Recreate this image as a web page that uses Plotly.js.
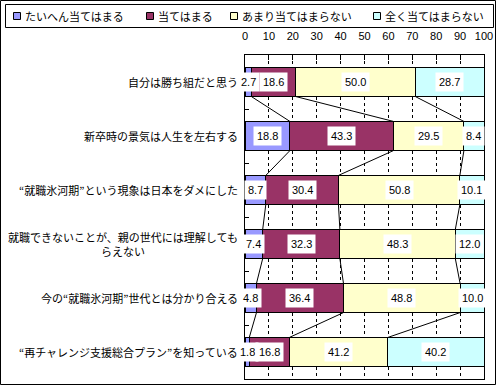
<!DOCTYPE html>
<html><head><meta charset="utf-8">
<script src="https://cdn.plot.ly/plotly-3.0.1.min.js"></script>
<style>html,body{margin:0;padding:0;background:#fff}#chart{width:500px;height:385px}</style>
</head><body><div id="chart"></div>
<script>
const categories = [
  '自分は勝ち組だと思う',
  '新卒時の景気は人生を左右する',
  '“就職氷河期”という現象は日本をダメにした',
  '就職できないことが、親の世代には理解しても<br>らえない',
  '今の“就職氷河期”世代とは分かり合える',
  '“再チャレンジ支援総合プラン”を知っている'
];
const seriesNames = ['たいへん当てはまる', '当てはまる', 'あまり当てはまらない', '全く当てはまらない'];
const veryTrue   = [2.7, 18.8, 8.7, 7.4, 4.8, 1.8];
const somewhat   = [18.6, 43.3, 30.4, 32.3, 36.4, 16.8];
const notMuch    = [50.0, 29.5, 50.8, 48.3, 48.8, 41.2];
const notAtAll   = [28.7, 8.4, 10.1, 12.0, 10.0, 40.2];
const xTickVals  = [0, 10, 20, 30, 40, 50, 60, 70, 80, 90, 100];
const colors = ['#9999FF', '#993366', '#FFFFCC', '#CCFFFF'];

const series = [veryTrue, somewhat, notMuch, notAtAll];
const idx = categories.map((c, i) => i);
const BAR_W = 0.54;
const JP = '"Noto Sans CJK JP", sans-serif';
const NUM = '"Liberation Sans", Arial, sans-serif';

// layout geometry (pixels)
const M = {l: 245, r: 16, t: 55, b: 6};
const W = 500, H = 385;
const PW = W - M.l - M.r, PH = H - M.t - M.b;
const px2x = p => (p - M.l) / PW;
const py2y = p => (H - M.b - p) / PH;

const traces = series.map((vals, k) => ({
  type: 'bar', orientation: 'h', name: seriesNames[k],
  x: vals, y: idx, width: BAR_W,
  marker: {color: colors[k], line: {color: '#000', width: 1}},
  hoverinfo: 'x', showlegend: false
}));

// cumulative sums
const cum = [];
let run = idx.map(() => 0);
series.forEach(vals => { run = run.map((r, i) => r + vals[i]); cum.push(run.slice()); });

const shapes = [];
// series lines between bars
for (let k = 0; k < 3; k++) {
  for (let i = 0; i < idx.length - 1; i++) {
    shapes.push({type: 'line', xref: 'x', yref: 'y', layer: 'above',
      x0: cum[k][i], y0: i + BAR_W / 2, x1: cum[k][i + 1], y1: i + 1 - BAR_W / 2,
      line: {color: '#000', width: 1}});
  }
}
// outer frame
shapes.push({type: 'rect', xref: 'paper', yref: 'paper',
  x0: px2x(0.5), x1: px2x(495.5), y0: py2y(0.5), y1: py2y(384.5),
  line: {color: '#000', width: 1}, fillcolor: 'rgba(0,0,0,0)'});
// legend box
shapes.push({type: 'rect', xref: 'paper', yref: 'paper',
  x0: px2x(5.5), x1: px2x(493.5), y0: py2y(4.5), y1: py2y(27.5),
  line: {color: '#000', width: 1}, fillcolor: '#fff'});
const legendX = [13, 146, 230, 373];
const annotations = [];
seriesNames.forEach((name, k) => {
  shapes.push({type: 'rect', xref: 'paper', yref: 'paper',
    x0: px2x(legendX[k] + 0.5), x1: px2x(legendX[k] + 7.5), y0: py2y(12.5), y1: py2y(19.5),
    line: {color: '#000', width: 1}, fillcolor: colors[k]});
  annotations.push({xref: 'paper', yref: 'paper', x: px2x(legendX[k] + 10), y: py2y(16),
    xanchor: 'left', yanchor: 'middle', text: name, showarrow: false,
    font: {family: JP, size: 11, color: '#000'}});
});

// data labels
series.forEach((vals, k) => {
  vals.forEach((v, i) => {
    annotations.push({xref: 'x', yref: 'y', x: cum[k][i] - v / 2, y: i,
      text: v.toFixed(1), showarrow: false, bgcolor: '#fff', borderpad: 3,
      font: {family: NUM, size: 11, color: '#000'}});
  });
});
// category labels
categories.forEach((c, i) => {
  annotations.push({xref: 'paper', yref: 'y', x: 0, y: i, xanchor: 'right', xshift: -5,
    text: c, align: 'center', showarrow: false,
    font: {family: JP, size: 11, color: '#000'}});
});

const layout = {
  width: W, height: H, margin: M,
  paper_bgcolor: '#fff', plot_bgcolor: '#fff',
  barmode: 'stack', showlegend: false,
  font: {family: NUM, size: 11, color: '#000'},
  xaxis: {side: 'top', range: [0, 100], tickvals: xTickVals, ticks: 'inside', ticklen: 5,
    tickcolor: '#000', showline: true, mirror: true, linecolor: '#000', linewidth: 1,
    showgrid: true, gridcolor: '#000', gridwidth: 1, griddash: '3px,3px', zeroline: false,
    ticklabelstandoff: 10, tickfont: {family: NUM, size: 11, color: '#000'}, fixedrange: true},
  yaxis: {range: [idx.length - 0.5, -0.5], tickvals: idx.slice(0, -1).map(i => i + 0.5),
    ticks: 'inside', ticklen: 4, tickcolor: '#000', showticklabels: false,
    showline: true, mirror: true, linecolor: '#000', linewidth: 1,
    showgrid: false, zeroline: false, fixedrange: true},
  shapes: shapes, annotations: annotations
};
Plotly.newPlot('chart', traces, layout, {displayModeBar: false, staticPlot: true});
</script></body></html>
